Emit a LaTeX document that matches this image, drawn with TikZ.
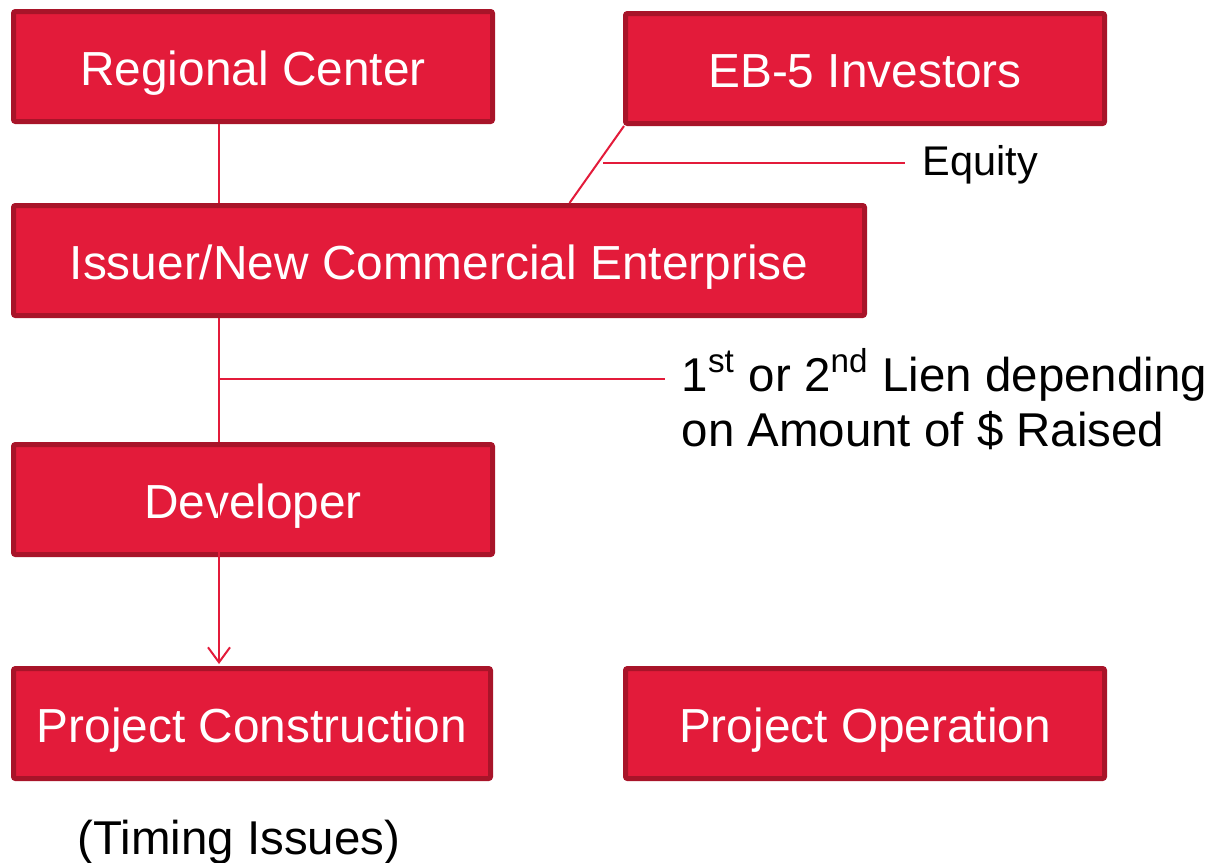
\documentclass[tikz,border=0pt]{standalone}
\usepackage{fontspec}
\setmainfont{Liberation Sans}
\usepackage{tikz}
\usetikzlibrary{arrows.meta}
\usetikzlibrary{calc,positioning}

\definecolor{ebred}{HTML}{E31B3A}
\definecolor{ebdark}{HTML}{A81429}

\begin{document}
\begin{tikzpicture}[
            party/.style={rectangle, draw=ebdark, fill=ebred, line width=0.05cm, rounded corners=0.02cm,
            text=white, text centered, minimum width=4.79cm, minimum height=1.10cm, inner sep=0pt,
            text height=0.45cm, text depth=0.08cm, font=\fontsize{13.6}{15.6}\selectfont},
            link/.style={draw=ebred, line width=0.02cm},
            note/.style={text=black, inner sep=0pt, font=\fontsize{13.5}{15.6}\selectfont}]
            \useasboundingbox (0,0) rectangle (12.07,-8.62);

            \node (regional) [party] at (2.53,-0.665) {Regional Center};
            \node (investors) [party] at (8.65,-0.685) {EB-5 Investors};
            \node (issuer) [party, minimum width=8.51cm] at (4.39,-2.605) {Issuer/New Commercial Enterprise};
            \node (developer) [party] at (2.53,-4.995) {Developer};
            \node (construction) [party, minimum width=4.77cm] at (2.52,-7.235) {Project Construction};
            \node (operation) [party] at (8.65,-7.235) {Project Operation};

            \node (timing) [note, anchor=base] at (2.39,-8.54) {(Timing Issues)};
            \node (equity) [note, font=\fontsize{11.8}{13}\selectfont, anchor=west] at (9.22,-1.65) {Equity};
            \node (lien) [note, align=left, anchor=west] at (6.81,-3.99)
            {1\textsuperscript{st} or 2\textsuperscript{nd} Lien depending\\on Amount of \$ Raised};

            \coordinate (trunk) at (2.19,0);
            \coordinate (equityfoot) at (6.03,-1.63);
            \coordinate (lienfoot) at (2.19,-3.79);

            \draw [link] (regional.south -| trunk) -- (issuer.north -| trunk);
            \draw [link] ($(investors.south west)+(0.01,0)$) -- ($(issuer.north west)+(5.585,0)$);
            \draw [link] (equityfoot) -- ($(equity.west |- equityfoot)+(-0.17,0)$);
            \draw [link] (issuer.south -| trunk) -- (developer.north -| trunk);
            \draw [link] (lienfoot) -- ($(lien.west |- lienfoot)+(-0.16,0)$);
            \draw [link, -{Straight Barb[length=0.15cm, width=0.22cm]}] (developer.center -| trunk) -- ($(construction.north -| trunk)+(0,0.02)$);
        \end{tikzpicture}
\end{document}
